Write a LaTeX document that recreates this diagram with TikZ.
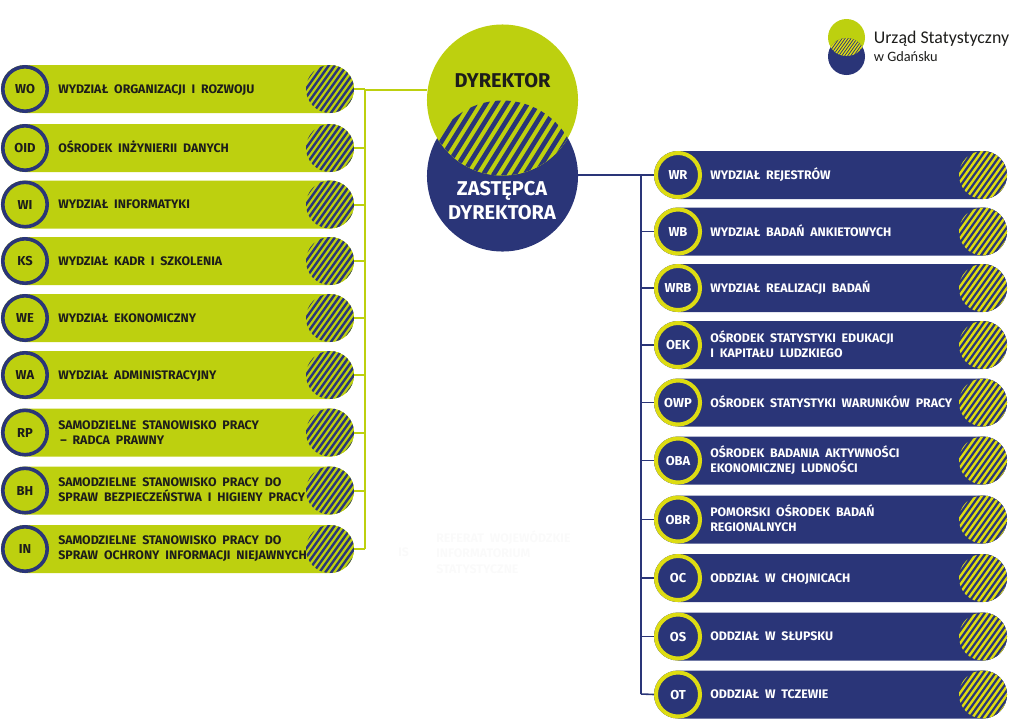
\documentclass[tikz,border=0pt]{standalone}
\usepackage{fontspec}
\setmainfont{Fira Sans}[WordSpace=2]
\newfontfamily\logofont{Carlito}
\usepackage{tikz}
\usetikzlibrary{shapes,arrows, positioning}
\definecolor{lime}{HTML}{BDD00F}
\definecolor{navy}{HTML}{2A3578}
\definecolor{sun}{HTML}{DDDC12}
\definecolor{ink}{HTML}{1D1D1B}
\newcommand{\stripes}[1]{\foreach \t in {-48,-42,...,48} \draw [#1, line width=0.06cm] (path picture bounding box.center) ++(\t,0) ++(-20,28) -- ++(40,-56);}
\tikzstyle{lbar} = [rectangle, fill=lime, minimum width=8.825cm, minimum height=1.2cm, rounded corners=0.6cm, inner sep=0pt]
\tikzstyle{rbar} = [rectangle, fill=navy, minimum width=8.825cm, minimum height=1.2cm, rounded corners=0.6cm, inner sep=0pt]
\tikzstyle{lring} = [circle, draw=navy, line width=0.09cm, fill=lime, minimum size=1.11cm, inner sep=0pt, text=ink, text height=6.4pt, text depth=0pt, font=\fontsize{9.2}{10}\bfseries]
\tikzstyle{rring} = [circle, draw=sun, line width=0.1cm, fill=navy, minimum size=1.1cm, inner sep=0pt, text=white, text height=6.4pt, text depth=0pt, font=\fontsize{9.2}{10}\bfseries]
\tikzstyle{lhatch} = [circle, minimum size=1.2cm, inner sep=0pt, fill=lime, path picture={\stripes{navy}}]
\tikzstyle{rhatch} = [circle, minimum size=1.2cm, inner sep=0pt, fill=navy, path picture={\stripes{sun}}]
\tikzstyle{bartext} = [anchor=west, align=left, inner sep=0pt, yshift=-0.03cm, font=\fontsize{8.8}{10.7}\bfseries, execute at begin node=\strut, execute at end node=\strut]
\tikzstyle{ltext} = [bartext, text=ink]
\tikzstyle{rtext} = [bartext, text=white]
\tikzstyle{lline} = [draw=lime, line width=0.05cm]
\tikzstyle{rline} = [draw=navy, line width=0.04cm]
\tikzstyle{bigdisc} = [circle, minimum size=3.775cm, inner sep=0pt]
\tikzstyle{logodisc} = [circle, minimum size=0.925cm, inner sep=0pt]
\tikzstyle{head} = [align=center, font=\fontsize{14.2}{17}\bfseries]
\begin{document}
\begin{tikzpicture}[x=0.025cm, y=-0.025cm]
	\useasboundingbox (0,0) rectangle (1012,719);
	\coordinate (ltrunk) at (365,90);
	\coordinate (lend) at (365,549);
	\coordinate (rtrunk) at (641,175);
	\coordinate (rend) at (641,694);

	% centre
	\node [bigdisc, fill=navy] (zas) at (502.5,176) {};
	\node [bigdisc, fill=lime] (dyr) at (502.5,100) {};
	\begin{scope}
		\clip (502.5,176) circle (75.5);
		\clip (502.5,100) circle (75.5);
		\fill [lime] (420,90) rectangle (585,185);
		\foreach \t in {-90,-79.6,...,90}
			\draw [navy, line width=0.115cm] (502.5,138) ++(\t,0) ++(-30,48) -- ++(60,-96);
	\end{scope}
	\node [head, text=ink] (dyrt) at (502.5,81) {DYREKTOR};
	\node [head, text=white] (zast) at (502,201) {ZASTĘPCA\\DYREKTORA};

	% logo
	\node [logodisc, fill=navy] (lgb) at (846.5,56.5) {};
	\node [logodisc, fill=lime] (lgt) at (846.5,37.5) {};
	\begin{scope}
		\clip (846.5,37.5) circle (18.5);
		\clip (846.5,56.5) circle (18.5);
		\fill [navy] (825,35) rectangle (868,60);
		\foreach \t in {-30,-27,...,30}
			\draw [sun, line width=0.035cm] (846.5,47) ++(\t,0) ++(-10,14) -- ++(20,-28);
	\end{scope}
	\node [anchor=west, inner sep=0pt, text=ink, font=\logofont\fontsize{12.7}{16}\selectfont] (lga) at (873.5,39) {Urząd Statystyczny};
	\node [anchor=west, inner sep=0pt, text=ink, font=\logofont\fontsize{10.2}{12}\selectfont] (lgc) at (873.5,57) {w Gdańsku};

	% left column
	\node [lbar] (bWO) at (177.5,89) {};
	\node [lbar] (bOID) at (177.5,148) {};
	\node [lbar] (bWI) at (177.5,204.5) {};
	\node [lbar] (bKS) at (177.5,261) {};
	\node [lbar] (bWE) at (177.5,318) {};
	\node [lbar] (bWA) at (177.5,375) {};
	\node [lbar] (bRP) at (177.5,432.5) {};
	\node [lbar] (bBH) at (177.5,490.5) {};
	\node [lbar] (bIN) at (177.5,549) {};

	\node [lring] (WO) at (25,89) {WO};
	\node [lring] (OID) at (25,148) {OID};
	\node [lring] (WI) at (25,204.5) {WI};
	\node [lring] (KS) at (25,261) {KS};
	\node [lring] (WE) at (25,318) {WE};
	\node [lring] (WA) at (25,375) {WA};
	\node [lring] (RP) at (25,432.5) {RP};
	\node [lring] (BH) at (25,490.5) {BH};
	\node [lring] (IN) at (25,549) {IN};

	\node [lhatch] (hWO) at (330,89) {};
	\node [lhatch] (hOID) at (330,148) {};
	\node [lhatch] (hWI) at (330,204.5) {};
	\node [lhatch] (hKS) at (330,261) {};
	\node [lhatch] (hWE) at (330,318) {};
	\node [lhatch] (hWA) at (330,375) {};
	\node [lhatch] (hRP) at (330,432.5) {};
	\node [lhatch] (hBH) at (330,490.5) {};
	\node [lhatch] (hIN) at (330,549) {};

	\node [ltext] (tWO) at (58,89) {WYDZIAŁ ORGANIZACJI I ROZWOJU};
	\node [ltext] (tOID) at (58,148) {OŚRODEK INŻYNIERII DANYCH};
	\node [ltext] (tWI) at (58,204.5) {WYDZIAŁ INFORMATYKI};
	\node [ltext] (tKS) at (58,261) {WYDZIAŁ KADR I SZKOLENIA};
	\node [ltext] (tWE) at (58,318) {WYDZIAŁ EKONOMICZNY};
	\node [ltext] (tWA) at (58,375) {WYDZIAŁ ADMINISTRACYJNY};
	\node [ltext] (tRP) at (58,433.5) {SAMODZIELNE STANOWISKO PRACY\\\hspace*{0.05cm}– RADCA PRAWNY};
	\node [ltext] (tBH) at (58,490.5) {SAMODZIELNE STANOWISKO PRACY DO\\SPRAW BEZPIECZEŃSTWA I HIGIENY PRACY};
	\node [ltext] (tIN) at (58,549) {SAMODZIELNE STANOWISKO PRACY DO\\SPRAW OCHRONY INFORMACJI NIEJAWNYCH};

	% right column
	\node [rbar] (bWR) at (830.5,175) {};
	\node [rbar] (bWB) at (830.5,231.5) {};
	\node [rbar] (bWRB) at (830.5,288) {};
	\node [rbar] (bOEK) at (830.5,345) {};
	\node [rbar] (bOWP) at (830.5,402.5) {};
	\node [rbar] (bOBA) at (830.5,460.5) {};
	\node [rbar] (bOBR) at (830.5,519.5) {};
	\node [rbar] (bOC) at (830.5,578) {};
	\node [rbar] (bOS) at (830.5,636.5) {};
	\node [rbar] (bOT) at (830.5,694.5) {};

	\node [rring] (WR) at (678,175) {WR};
	\node [rring] (WB) at (678,231.5) {WB};
	\node [rring] (WRB) at (678,288) {WRB};
	\node [rring] (OEK) at (678,345) {OEK};
	\node [rring] (OWP) at (678,402.5) {OWP};
	\node [rring] (OBA) at (678,460.5) {OBA};
	\node [rring] (OBR) at (678,519.5) {OBR};
	\node [rring] (OC) at (678,578) {OC};
	\node [rring] (OS) at (678,636.5) {OS};
	\node [rring] (OT) at (678,694.5) {OT};

	\node [rhatch] (hWR) at (983,175) {};
	\node [rhatch] (hWB) at (983,231.5) {};
	\node [rhatch] (hWRB) at (983,288) {};
	\node [rhatch] (hOEK) at (983,345) {};
	\node [rhatch] (hOWP) at (983,402.5) {};
	\node [rhatch] (hOBA) at (983,460.5) {};
	\node [rhatch] (hOBR) at (983,519.5) {};
	\node [rhatch] (hOC) at (983,578) {};
	\node [rhatch] (hOS) at (983,636.5) {};
	\node [rhatch] (hOT) at (983,694.5) {};

	\node [rtext] (tWR) at (710,175) {WYDZIAŁ REJESTRÓW};
	\node [rtext] (tWB) at (710,231.5) {WYDZIAŁ BADAŃ ANKIETOWYCH};
	\node [rtext] (tWRB) at (710,288) {WYDZIAŁ REALIZACJI BADAŃ};
	\node [rtext] (tOEK) at (710,345) {OŚRODEK STATYSTYKI EDUKACJI\\I KAPITAŁU LUDZKIEGO};
	\node [rtext] (tOWP) at (710,402.5) {OŚRODEK STATYSTYKI WARUNKÓW PRACY};
	\node [rtext] (tOBA) at (710,460.5) {OŚRODEK BADANIA AKTYWNOŚCI\\EKONOMICZNEJ LUDNOŚCI};
	\node [rtext] (tOBR) at (710,519.5) {POMORSKI OŚRODEK BADAŃ\\REGIONALNYCH};
	\node [rtext] (tOC) at (710,578) {ODDZIAŁ W CHOJNICACH};
	\node [rtext] (tOS) at (710,636.5) {ODDZIAŁ W SŁUPSKU};
	\node [rtext] (tOT) at (710,694.5) {ODDZIAŁ W TCZEWIE};

	% barely visible block
	\node [anchor=west, inner sep=0pt, text=black!2, font=\fontsize{8.8}{10.7}\bfseries] (IS) at (398,552) {IS};
	\node [anchor=west, align=left, inner sep=0pt, text=black!2, font=\fontsize{8.8}{11}\bfseries] (tIS) at (436,552) {REFERAT WOJEWÓDZKIE\\INFORMATORIUM\\STATYSTYCZNE};

	% connectors
	\path [lline] (dyr.west |- ltrunk) -- (ltrunk) -- (lend);
	\path [lline] (hWO.east) -- (hWO.east -| ltrunk);
	\path [lline] (hOID.east) -- (hOID.east -| ltrunk);
	\path [lline] (hWI.east) -- (hWI.east -| ltrunk);
	\path [lline] (hKS.east) -- (hKS.east -| ltrunk);
	\path [lline] (hWE.east) -- (hWE.east -| ltrunk);
	\path [lline] (hWA.east) -- (hWA.east -| ltrunk);
	\path [lline] (hRP.east) -- (hRP.east -| ltrunk);
	\path [lline] (hBH.east) -- (hBH.east -| ltrunk);
	\path [lline] (hIN.east) -- (lend);

	\path [rline] (zas.east |- rtrunk) -- (WR.west);
	\path [rline] (rtrunk) -- (rend);
	\path [rline] (WB.west) -- (WB.west -| rtrunk);
	\path [rline] (WRB.west) -- (WRB.west -| rtrunk);
	\path [rline] (OEK.west) -- (OEK.west -| rtrunk);
	\path [rline] (OWP.west) -- (OWP.west -| rtrunk);
	\path [rline] (OBA.west) -- (OBA.west -| rtrunk);
	\path [rline] (OBR.west) -- (OBR.west -| rtrunk);
	\path [rline] (OC.west) -- (OC.west -| rtrunk);
	\path [rline] (OS.west) -- (OS.west -| rtrunk);
	\path [rline] (OT.west) -- (rend);
\end{tikzpicture}
\end{document}
